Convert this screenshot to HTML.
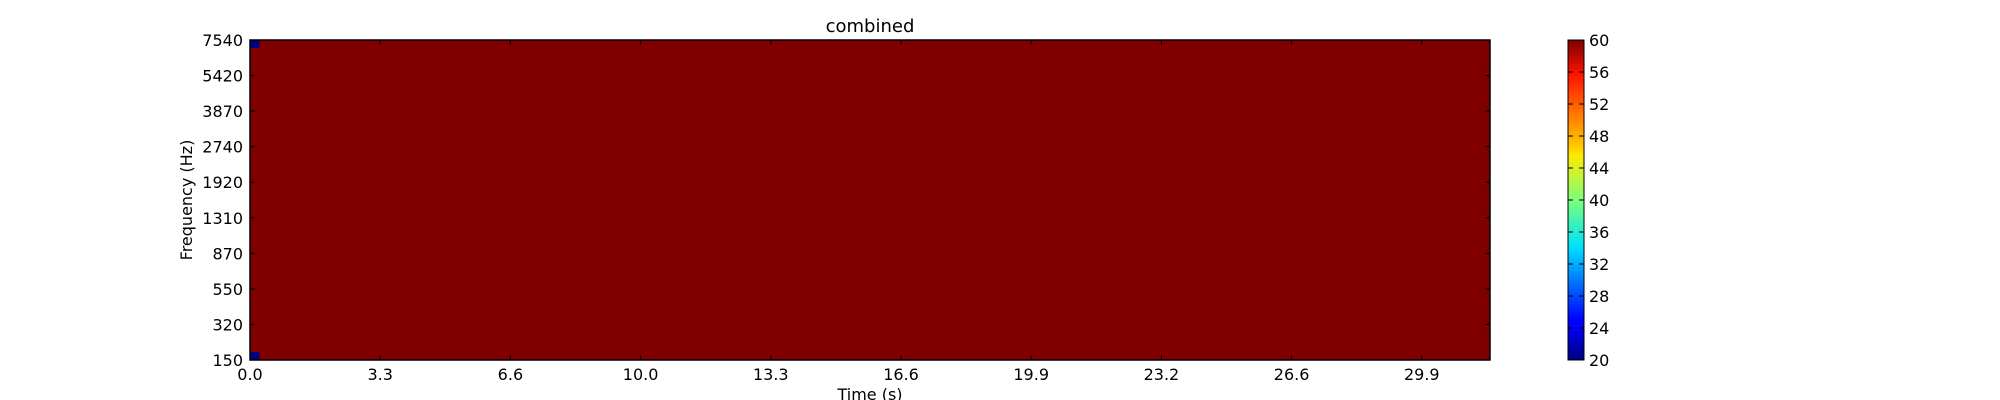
<!DOCTYPE html>
<html><head><meta charset="utf-8">
<style>
body{margin:0;background:#fff;}
svg{display:block;font-family:"DejaVu Sans","Liberation Sans",sans-serif;}
</style></head>
<body>
<svg id="chart" width="2000" height="400" viewBox="0 0 2000 400">
<defs>
<linearGradient id="jet" x1="0" y1="1" x2="0" y2="0">
<stop offset="0" stop-color="#00007f"/>
<stop offset="0.11" stop-color="#0000ff"/>
<stop offset="0.125" stop-color="#0000ff"/>
<stop offset="0.34" stop-color="#00d4ff"/>
<stop offset="0.36" stop-color="#00e5f7"/>
<stop offset="0.5" stop-color="#7dff7a"/>
<stop offset="0.64" stop-color="#ffea00"/>
<stop offset="0.66" stop-color="#ffd000"/>
<stop offset="0.89" stop-color="#ff1400"/>
<stop offset="1" stop-color="#7f0000"/>
</linearGradient>
</defs>
<text x="870" y="32" font-size="18" text-anchor="middle">combined</text>
<g id="heat"></g>
<g id="axes"></g>
<text x="870" y="400" font-size="16" text-anchor="middle">Time (s)</text>
<text transform="translate(192,200) rotate(-90)" font-size="16" text-anchor="middle">Frequency (Hz)</text>
<rect x="1568" y="40" width="16" height="320" fill="url(#jet)" stroke="#000" stroke-width="1"/>
<g id="cbticks"></g>
</svg>
<script>
const xTickLabels = ["0.0","3.3","6.6","10.0","13.3","16.6","19.9","23.2","26.6","29.9"];
const yTickLabels = ["150","320","550","870","1310","1920","2740","3870","5420","7540"];
const cbTickLabels = [20,24,28,32,36,40,44,48,52,56,60];
const nCols = 130;
const nRows = 40;
const baseValue = 60;
// sparse exceptions: [col, row (0=bottom), value]
const cellCols = [0, 0];
const cellRows = [0, 39];
const cellValues = [20, 20];

const L=250,R=1490,T=40,B=360,vmin=20,vmax=60;
const NS="http://www.w3.org/2000/svg";
const cw=(R-L)/nCols, ch=(B-T)/nRows;
function jet(v){
  const t=Math.max(0,Math.min(1,(v-vmin)/(vmax-vmin)));
  const f=x=>Math.round(255*Math.max(0,Math.min(1,x)));
  const r=f(Math.min(4*t-1.5,-4*t+4.5)), g=f(Math.min(4*t-0.5,-4*t+3.5)), b=f(Math.min(4*t+0.5,-4*t+2.5));
  return `rgb(${r},${g},${b})`;
}
function xCell(c){return L+c*cw;}
function yCell(r){return B-(r+1)*ch;}
function mk(tag,attrs,parent){const e=document.createElementNS(NS,tag);for(const k in attrs)e.setAttribute(k,attrs[k]);parent.appendChild(e);return e;}
const heat=document.getElementById('heat');
const bg=mk('rect',{x:L,y:T,width:R-L,height:B-T,fill:jet(baseValue)},heat);


for(let i=0;i<cellValues.length;i++){
  const c=mk('rect',{x:xCell(cellCols[i]),y:yCell(cellRows[i]),width:cw,height:ch,fill:jet(cellValues[i])},heat);
  
  
}
const axes=document.getElementById('axes');
const frame=mk('rect',{x:L,y:T,width:R-L,height:B-T,fill:'none',stroke:'#000','stroke-width':1.5},axes);


const xStep=130.2;
xTickLabels.forEach((lab,i)=>{
  const x=L+i*xStep;
  mk('line',{x1:x,y1:B,x2:x,y2:B-5,stroke:'#000'},axes);
  mk('line',{x1:x,y1:T,x2:x,y2:T+5,stroke:'#000'},axes);
  const t=mk('text',{x:x,y:B+20,'font-size':16,'text-anchor':'middle'},axes);
  t.textContent=lab;
  
  
});
const yStep=(B-T)/(yTickLabels.length-1);
yTickLabels.forEach((lab,i)=>{
  const y=B-i*yStep;
  mk('line',{x1:L,y1:y,x2:L+5,y2:y,stroke:'#000'},axes);
  mk('line',{x1:R,y1:y,x2:R-5,y2:y,stroke:'#000'},axes);
  const t=mk('text',{x:L-7,y:y+6,'font-size':16,'text-anchor':'end'},axes);
  t.textContent=lab;
  
  
});
const cb=document.getElementById('cbticks');
cbTickLabels.forEach(v=>{
  const y=B-(v-vmin)/(vmax-vmin)*(B-T);
  mk('line',{x1:1584,y1:y,x2:1579,y2:y,stroke:'#000'},cb);
  mk('line',{x1:1568,y1:y,x2:1573,y2:y,stroke:'#000'},cb);
  const t=mk('text',{x:1589,y:y+6,'font-size':16},cb);
  t.textContent=v;
  
  
});
</script>
</body></html>
